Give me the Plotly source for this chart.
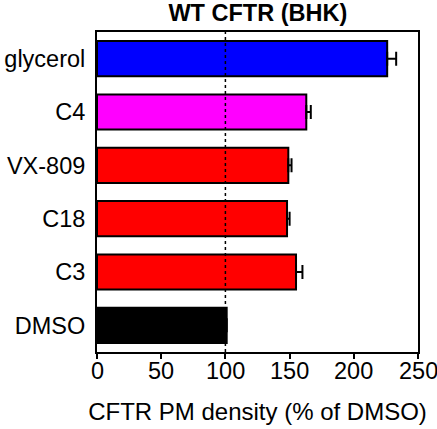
import plotly.graph_objects as go

categories = ["glycerol", "C4", "VX-809", "C18", "C3", "DMSO"]
values = [226, 163, 149, 148, 155, 101]
errors = [7, 3.5, 2.5, 2, 5, 0]
colors = ["#0000ff", "#ff00ff", "#ff0000", "#ff0000", "#ff0000", "#000000"]
x_ticks = [0, 50, 100, 150, 200, 250]
ref_line = 100

font_family = "Arial, Liberation Sans, sans-serif"

fig = go.Figure()
fig.add_trace(go.Bar(
    y=categories, x=values, orientation="h",
    marker=dict(color=colors, line=dict(color="black", width=2)),
    width=0.66,
    error_x=dict(type="data", symmetric=False, array=errors,
                 arrayminus=[0] * len(errors), color="black",
                 thickness=2, width=7),
))
fig.add_shape(type="line", x0=ref_line, x1=ref_line, xref="x",
              y0=0, y1=1, yref="paper",
              line=dict(color="black", width=1.5, dash="dot"), layer="above")

for t in x_ticks:
    fig.add_annotation(x=t, xref="x", y=0, yref="paper", text=str(t),
                       showarrow=False, xanchor="center", yanchor="top",
                       yshift=-4, font=dict(size=23.5))

fig.update_layout(
    width=437, height=429,
    margin=dict(l=97, r=19, t=32, b=77, autoexpand=False),
    paper_bgcolor="white", plot_bgcolor="white",
    showlegend=False,
    font=dict(family=font_family, size=23.5, color="black"),
    title=dict(text="<b>WT CFTR (BHK)</b>", x=0.59, xanchor="center",
               y=0.971, yanchor="middle", font=dict(size=23.5)),
    xaxis=dict(range=[0, 250], tickvals=x_ticks, ticks="outside", ticklen=5,
               tickwidth=2, tickcolor="black", showline=True, linecolor="black",
               linewidth=2, mirror=True, showgrid=False, zeroline=False,
               automargin=False, showticklabels=False,
               title=dict(text="CFTR PM density (% of DMSO)", standoff=45,
                          font=dict(size=24))),
    yaxis=dict(categoryorder="array", categoryarray=categories[::-1],
               range=[-0.5, 5.5], showline=True, linecolor="black", linewidth=2,
               mirror=True, showgrid=False, ticks="", zeroline=False,
               automargin=False, tickfont=dict(size=23.5), ticklabelstandoff=5),
)

fig.write_html("out.html")
